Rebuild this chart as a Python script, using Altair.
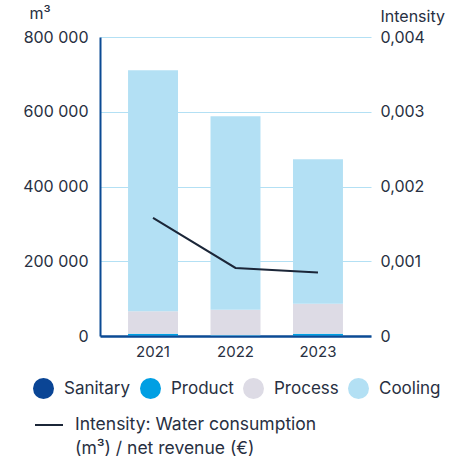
import altair as alt
import pandas as pd

years = ["2021", "2022", "2023"]
categories = ["Sanitary", "Product", "Process", "Cooling"]
sanitary = [1500, 1000, 1500]
product = [4500, 1000, 4500]
process = [60000, 68000, 80000]
cooling = [645000, 518000, 387000]
intensity = [0.00158, 0.00091, 0.00085]
left_ticks = [0, 200000, 400000, 600000, 800000]
right_ticks = [0, 0.001, 0.002, 0.003, 0.004]
line_label = "Intensity: Water consumption (m³) / net revenue (€)"
line_label_lines = ["Intensity: Water consumption", "(m³) / net revenue (€)"]

colors = ["#0a4595", "#009fe3", "#dddbe5", "#b3e0f4"]
line_color = "#1b2638"
text_color = "#283042"
axis_blue = "#0b4a94"
FONT = "Inter"

rows = []
for i, yr in enumerate(years):
    for k, (cat, vals) in enumerate(zip(categories, [sanitary, product, process, cooling])):
        rows.append({"year": yr, "category": cat, "order": k, "value": vals[i]})
bars_df = pd.DataFrame(rows)
line_df = pd.DataFrame({"year": years, "intensity": intensity, "series": [line_label] * 3})

x_enc = alt.X(
    "year:N",
    title=None,
    scale=alt.Scale(paddingInner=0.394, paddingOuter=0.34),
    axis=alt.Axis(
        labelAngle=0, ticks=False, grid=False, domainColor=axis_blue, domainWidth=2.5,
        labelPadding=8, labelFontSize=15, labelFont=FONT, labelColor=text_color,
    ),
)

bars = alt.Chart(bars_df).mark_bar().encode(
    x=x_enc,
    y=alt.Y(
        "value:Q", stack="zero",
        scale=alt.Scale(domain=[0, 800000], nice=False),
        axis=alt.Axis(
            values=left_ticks, ticks=False, grid=True, gridColor="#b3e0f4", gridWidth=1,
            domainColor=axis_blue, domainWidth=2, labelPadding=12,
            labelFontSize=16, labelFont=FONT, labelColor=text_color,
            labelExpr="replace(format(datum.value, ','), ',', ' ')",
            title="m³", titleAngle=0, titleAlign="left", titleBaseline="alphabetic",
            titleX=-71, titleY=-19, titleFontWeight="normal", titleFontSize=16,
            titleFont=FONT, titleColor=text_color,
        ),
    ),
    color=alt.Color(
        "category:N", sort=categories,
        scale=alt.Scale(domain=categories, range=colors),
        legend=alt.Legend(
            orient="none", legendX=-67, legendY=341, direction="horizontal", columns=4,
            symbolType="circle", symbolSize=441, symbolStrokeWidth=0, symbolOpacity=1,
            labelFontSize=17, labelFont=FONT, labelColor=text_color, labelOffset=10,
            columnPadding=9, title=None, padding=0,
        ),
    ),
    order=alt.Order("order:Q", sort="ascending"),
)

line = alt.Chart(line_df).mark_line(strokeWidth=2).encode(
    x=x_enc,
    y=alt.Y(
        "intensity:Q",
        scale=alt.Scale(domain=[0, 0.004], nice=False),
        axis=alt.Axis(
            values=right_ticks, orient="right", ticks=False, grid=False, domain=False,
            labelPadding=9, labelFontSize=16, labelFont=FONT, labelColor=text_color,
            labelExpr="datum.value == 0 ? '0' : replace(format(datum.value, '.3f'), '.', ',')",
            title="Intensity", titleAngle=0, titleAlign="left", titleBaseline="alphabetic",
            titleX=9, titleY=-16, titleFontWeight="normal", titleFontSize=16,
            titleFont=FONT, titleColor=text_color,
        ),
    ),
    stroke=alt.Stroke(
        "series:N",
        scale=alt.Scale(range=[line_color]),
        legend=alt.Legend(
            orient="none", legendX=-66, legendY=373, symbolType="stroke", symbolSize=784,
            symbolStrokeWidth=2, labelFontSize=17.5, labelFont=FONT, labelColor=text_color,
            labelOffset=11, labelLimit=400, title=None, padding=0,
            labelExpr="['" + line_label_lines[0] + "', '" + line_label_lines[1] + "']",
        ),
    ),
)

chart = alt.layer(bars, line).resolve_scale(y="independent", color="independent").properties(
    width=271, height=299,
    autosize=alt.AutoSizeParams(type="none"),
    padding={"left": 100, "top": 37, "right": 98, "bottom": 126},
).configure(
    background="white",
    style={"guide-label": {"lineHeight": 24}},
    view=alt.ViewConfig(strokeWidth=0, stroke="transparent"),
)

chart.save("out.html", embed_options={"renderer": "svg", "actions": False})
